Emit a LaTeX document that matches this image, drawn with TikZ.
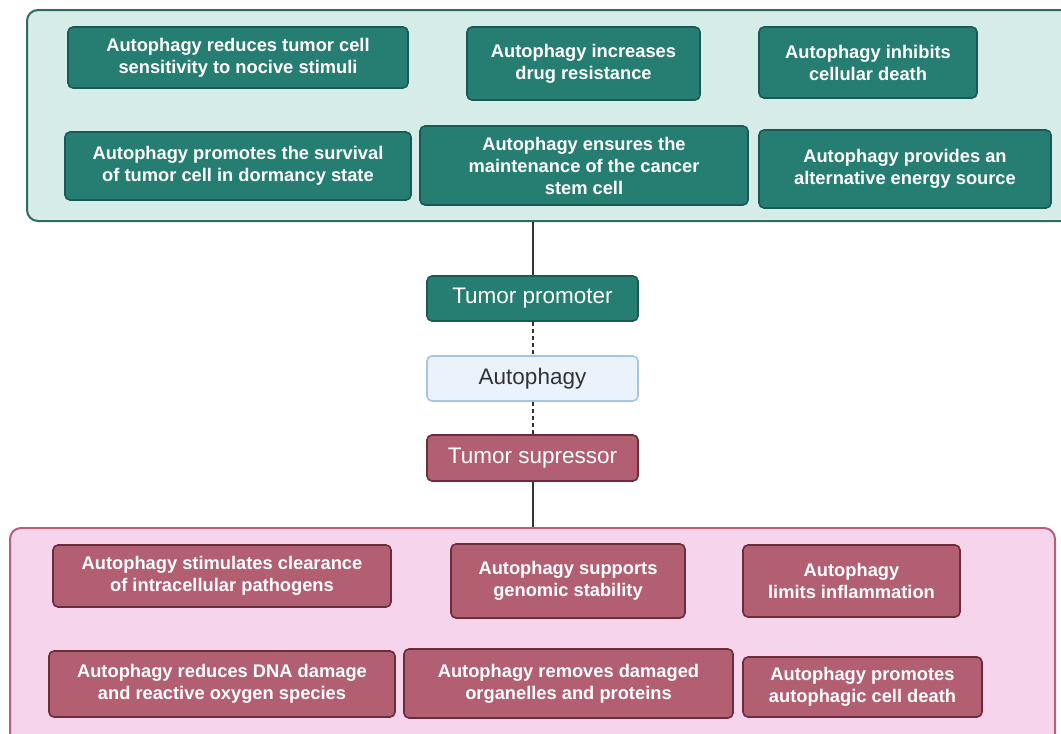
\documentclass[tikz,border=0pt]{standalone}
\usepackage{fontspec}
\setmainfont{Liberation Sans}
\definecolor{tealfill}{HTML}{267D72}
\definecolor{tealdraw}{HTML}{1B5A52}
\definecolor{tealbg}{HTML}{D5ECE8}
\definecolor{tealbgdraw}{HTML}{2F6B62}
\definecolor{pinkfill}{HTML}{B15F71}
\definecolor{pinkdraw}{HTML}{6B2D3C}
\definecolor{pinkbg}{HTML}{F6D5EC}
\definecolor{pinkbgdraw}{HTML}{B3607D}
\definecolor{autofill}{HTML}{EAF2FB}
\definecolor{autodraw}{HTML}{A8C3E8}
\definecolor{autotext}{HTML}{333333}
\definecolor{linec}{HTML}{333333}
\tikzset{
  tbox/.style={draw=tealdraw, fill=tealfill, rounded corners=5pt, line width=1.6pt,
    text=white, font=\fontsize{18.3}{22}\selectfont\bfseries, align=center, inner sep=0pt},
  pbox/.style={draw=pinkdraw, fill=pinkfill, rounded corners=5pt, line width=1.6pt,
    text=white, font=\fontsize{18.3}{22}\selectfont\bfseries, align=center, inner sep=0pt},
  midbox/.style={rounded corners=5pt, line width=1.6pt, inner sep=0pt,
    font=\fontsize{22.5}{25}\selectfont, minimum width=211pt},
  outerbox/.style={rounded corners=11pt, line width=2pt, inner sep=0pt},
  conn/.style={draw=linec, line width=2pt},
  dconn/.style={draw=linec, line width=2pt, dash pattern=on 4pt off 3pt}
}
\begin{document}
\begin{tikzpicture}[x=1pt,y=-1pt]
\useasboundingbox (0,0) rectangle (1061,734);
% outer boxes
\node[outerbox, draw=tealbgdraw, fill=tealbg, minimum width=1048pt, minimum height=211pt] (top) at (551,115.5) {};
\node[outerbox, draw=pinkbgdraw, fill=pinkbg, minimum width=1045pt, minimum height=222pt] (bot) at (532.5,639) {};
% top inner boxes
\node[tbox, minimum width=340pt, minimum height=61pt] (t1) at (238,57.5) {Autophagy reduces tumor cell\\sensitivity to nocive stimuli};
\node[tbox, minimum width=233pt, minimum height=73pt] (t2) at (583.5,63.5) {Autophagy increases\\drug resistance};
\node[tbox, minimum width=218pt, minimum height=71pt] (t3) at (868,62.5) {Autophagy inhibits\\cellular death};
\node[tbox, minimum width=346pt, minimum height=68pt] (t4) at (238,166) {Autophagy promotes the survival\\of tumor cell in dormancy state};
\node[tbox, minimum width=328pt, minimum height=79pt] (t5) at (584,165.5) {Autophagy ensures the\\maintenance of the cancer\\stem cell};
\node[tbox, minimum width=292pt, minimum height=78pt] (t6) at (905,169) {Autophagy provides an\\alternative energy source};
% middle
\node[midbox, draw=tealdraw, fill=tealfill, text=white, minimum height=45pt] (prom) at (532.5,298.5) {Tumor promoter};
\node[midbox, draw=autodraw, fill=autofill, text=autotext, minimum height=45pt] (auto) at (532.5,378.5) {Autophagy};
\node[midbox, draw=pinkdraw, fill=pinkfill, text=white, minimum height=46pt] (supp) at (532.5,458) {Tumor supressor};
% bottom inner boxes
\node[pbox, minimum width=338pt, minimum height=62pt] (b1) at (222,576) {Autophagy stimulates clearance\\of intracellular pathogens};
\node[pbox, minimum width=234pt, minimum height=74pt] (b2) at (568,581) {Autophagy supports\\genomic stability};
\node[pbox, minimum width=217pt, minimum height=72pt] (b3) at (851.5,581) {Autophagy\\limits inflammation};
\node[pbox, minimum width=346pt, minimum height=66pt] (b4) at (222,684) {Autophagy reduces DNA damage\\and reactive oxygen species};
\node[pbox, minimum width=329pt, minimum height=69pt] (b5) at (568.5,683.5) {Autophagy removes damaged\\organelles and proteins};
\node[pbox, minimum width=239pt, minimum height=60pt] (b6) at (862.5,687) {Autophagy promotes\\autophagic cell death};
% connectors
\draw[conn] (prom.north |- top.south) -- (prom.north);
\draw[dconn] (prom.south) -- (auto.north);
\draw[dconn] (auto.south) -- (supp.north);
\draw[conn] (supp.south) -- (supp.south |- bot.north);
\end{tikzpicture}
\end{document}
